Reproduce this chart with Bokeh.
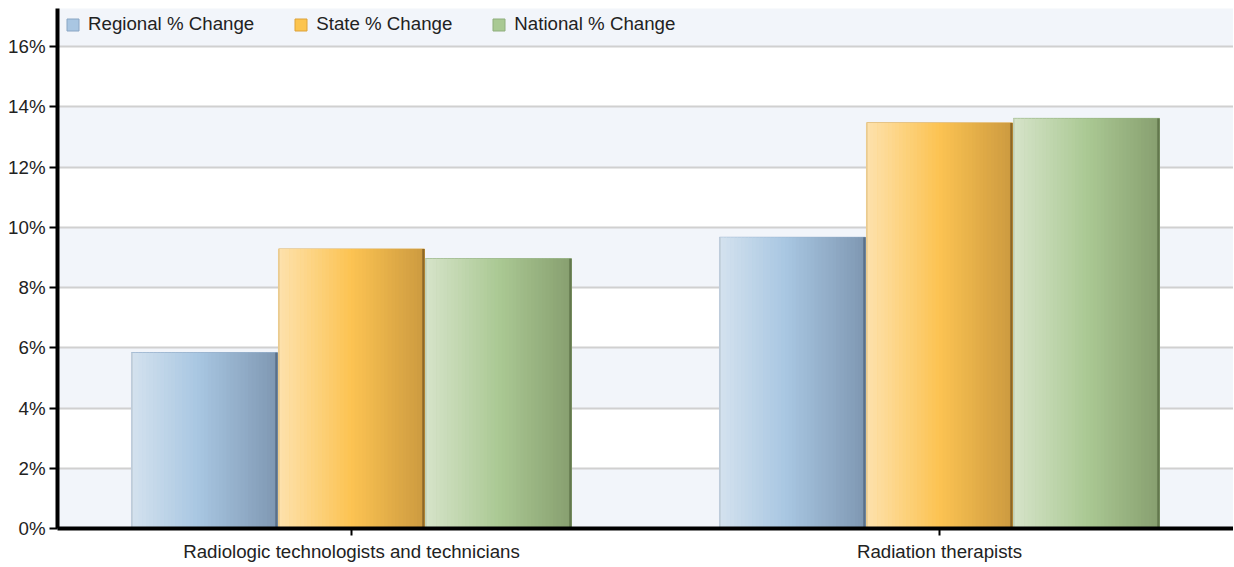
import numpy as np
from bokeh.plotting import figure
from bokeh.models import Range1d, FixedTicker, Legend, LegendItem, ColumnDataSource
from bokeh.embed import file_html
from bokeh.resources import INLINE

# ---------------- data ----------------
categories = ["Radiologic technologists and technicians", "Radiation therapists"]
series_names = ["Regional % Change", "State % Change", "National % Change"]
regional = [5.84, 9.67]
state = [9.28, 13.47]
national = [8.96, 13.62]
y_ticks = [0, 2, 4, 6, 8, 10, 12, 14, 16]
y_tick_labels = ["0%", "2%", "4%", "6%", "8%", "10%", "12%", "14%", "16%"]

# ---------------- style ----------------
FONT = "Liberation Sans"
series_values = [regional, state, national]
gradients = [
    [(0.0, "#d3e1ee"), (0.45, "#a9c7e2"), (1.0, "#7f98b3")],
    [(0.0, "#fde1ab"), (0.50, "#fcc352"), (1.0, "#cd9b40")],
    [(0.0, "#d5e3c8"), (0.50, "#abc994"), (1.0, "#88a070")],
]
edge_dark = ["#5b7088", "#8c6828", "#63774d"]
edge_light = ["#b9c5d1", "#e2c38c", "#c0cdb4"]
legend_fill = ["#a9c6e2", "#fcc44e", "#a9c993"]
legend_line = ["#8aa6c4", "#dca23a", "#8fae7c"]

slot = 0.25
bar_w = 0.2483
offsets = [-slot, 0.0, slot]
N = 40


def hex2rgb(h):
    h = h.lstrip("#")
    return np.array([int(h[i:i + 2], 16) for i in (0, 2, 4)], dtype=float)


def grad_color(stops, t):
    for (p0, c0), (p1, c1) in zip(stops[:-1], stops[1:]):
        if t <= p1:
            f = (t - p0) / (p1 - p0)
            c = hex2rgb(c0) * (1 - f) + hex2rgb(c1) * f
            return "#%02x%02x%02x" % tuple(int(round(v)) for v in c)
    return stops[-1][1]


FRAME_W, FRAME_H = 1176, 520
y_end = 17.27
p = figure(
    frame_width=FRAME_W, frame_height=FRAME_H,
    x_range=Range1d(-0.5, 1.5), y_range=Range1d(0, y_end),
    output_backend="svg", toolbar_location=None,
    min_border_left=57, min_border_right=0, min_border_top=8, min_border_bottom=0,
)
p.outline_line_color = None
p.background_fill_color = "#f2f5fa"
p.border_fill_color = "white"

# grid
p.xgrid.visible = False
p.ygrid.grid_line_color = "#d0d0d0"
p.ygrid.grid_line_width = 2
p.ygrid.band_fill_color = "white"
p.ygrid.band_fill_alpha = 1.0

# bars: solid base bar (used for legend) + vertical gradient strips on top
legend_items = []
sw = bar_w / N
for s, vals in enumerate(series_values):
    cx = [c + offsets[s] for c in range(len(vals))]
    base = p.vbar(x=cx, top=vals, bottom=0, width=bar_w, fill_color=legend_fill[s],
                  line_color=legend_line[s], line_width=1)
    legend_items.append(LegendItem(label=series_names[s], renderers=[base]))

    xs, tops, cols = [], [], []
    for c, v in enumerate(vals):
        left = c + offsets[s] - bar_w / 2
        for k in range(N):
            xs.append(left + (k + 0.5) * sw)
            tops.append(v)
            cols.append(grad_color(gradients[s], k / (N - 1)))
    src = ColumnDataSource(dict(x=xs, top=tops, color=cols))
    p.vbar(x="x", top="top", bottom=0, width=sw * 1.15, fill_color="color",
           line_color=None, source=src)
    # right dark edge
    ew = 0.0038
    p.vbar(x=[c + offsets[s] + bar_w / 2 - ew / 2 for c in range(len(vals))],
           top=vals, bottom=0, width=ew, fill_color=edge_dark[s], line_color=None)
    # left light edge
    lw = 0.0018
    p.vbar(x=[c + offsets[s] - bar_w / 2 + lw / 2 for c in range(len(vals))],
           top=vals, bottom=0, width=lw, fill_color=edge_light[s], line_color=None)

LEG_PAD, LEG_ROW = 4, 16
legend = Legend(items=legend_items, orientation="horizontal",
                location=(8, FRAME_H - 3 - (2 * LEG_PAD + LEG_ROW)))
legend.glyph_width = 15
legend.glyph_height = 15
legend.label_standoff = 8
legend.spacing = 39
legend.label_height = LEG_ROW
legend.padding = LEG_PAD
legend.margin = 0
legend.border_line_color = None
legend.background_fill_alpha = 0
legend.label_text_font = FONT
legend.label_text_font_size = "18.7px"
legend.label_text_color = "#222222"
p.add_layout(legend)

# y axis
p.yaxis.ticker = FixedTicker(ticks=y_ticks)
p.yaxis.major_label_overrides = {t: l for t, l in zip(y_ticks, y_tick_labels)}
p.yaxis.axis_line_color = "black"
p.yaxis.axis_line_width = 4
p.yaxis.major_tick_line_color = "black"
p.yaxis.major_tick_line_width = 2
p.yaxis.major_tick_out = 8
p.yaxis.major_tick_in = 0
p.yaxis.minor_tick_line_color = None
p.yaxis.major_label_standoff = 4
p.yaxis.major_label_text_font = FONT
p.yaxis.major_label_text_font_size = "18.7px"
p.yaxis.major_label_text_color = "#222222"

# x axis
p.xaxis.ticker = FixedTicker(ticks=list(range(len(categories))))
p.xaxis.major_label_overrides = {i: c for i, c in enumerate(categories)}
p.xaxis.axis_line_color = "black"
p.xaxis.axis_line_width = 4
p.xaxis.major_tick_line_color = "black"
p.xaxis.major_tick_line_width = 2
p.xaxis.major_tick_out = 7
p.xaxis.major_tick_in = 0
p.xaxis.minor_tick_line_color = None
p.xaxis.major_label_standoff = 5
p.xaxis.major_label_text_font = FONT
p.xaxis.major_label_text_font_size = "18.7px"
p.xaxis.major_label_text_color = "#222222"

open("out.html", "w").write(file_html(p, INLINE))
